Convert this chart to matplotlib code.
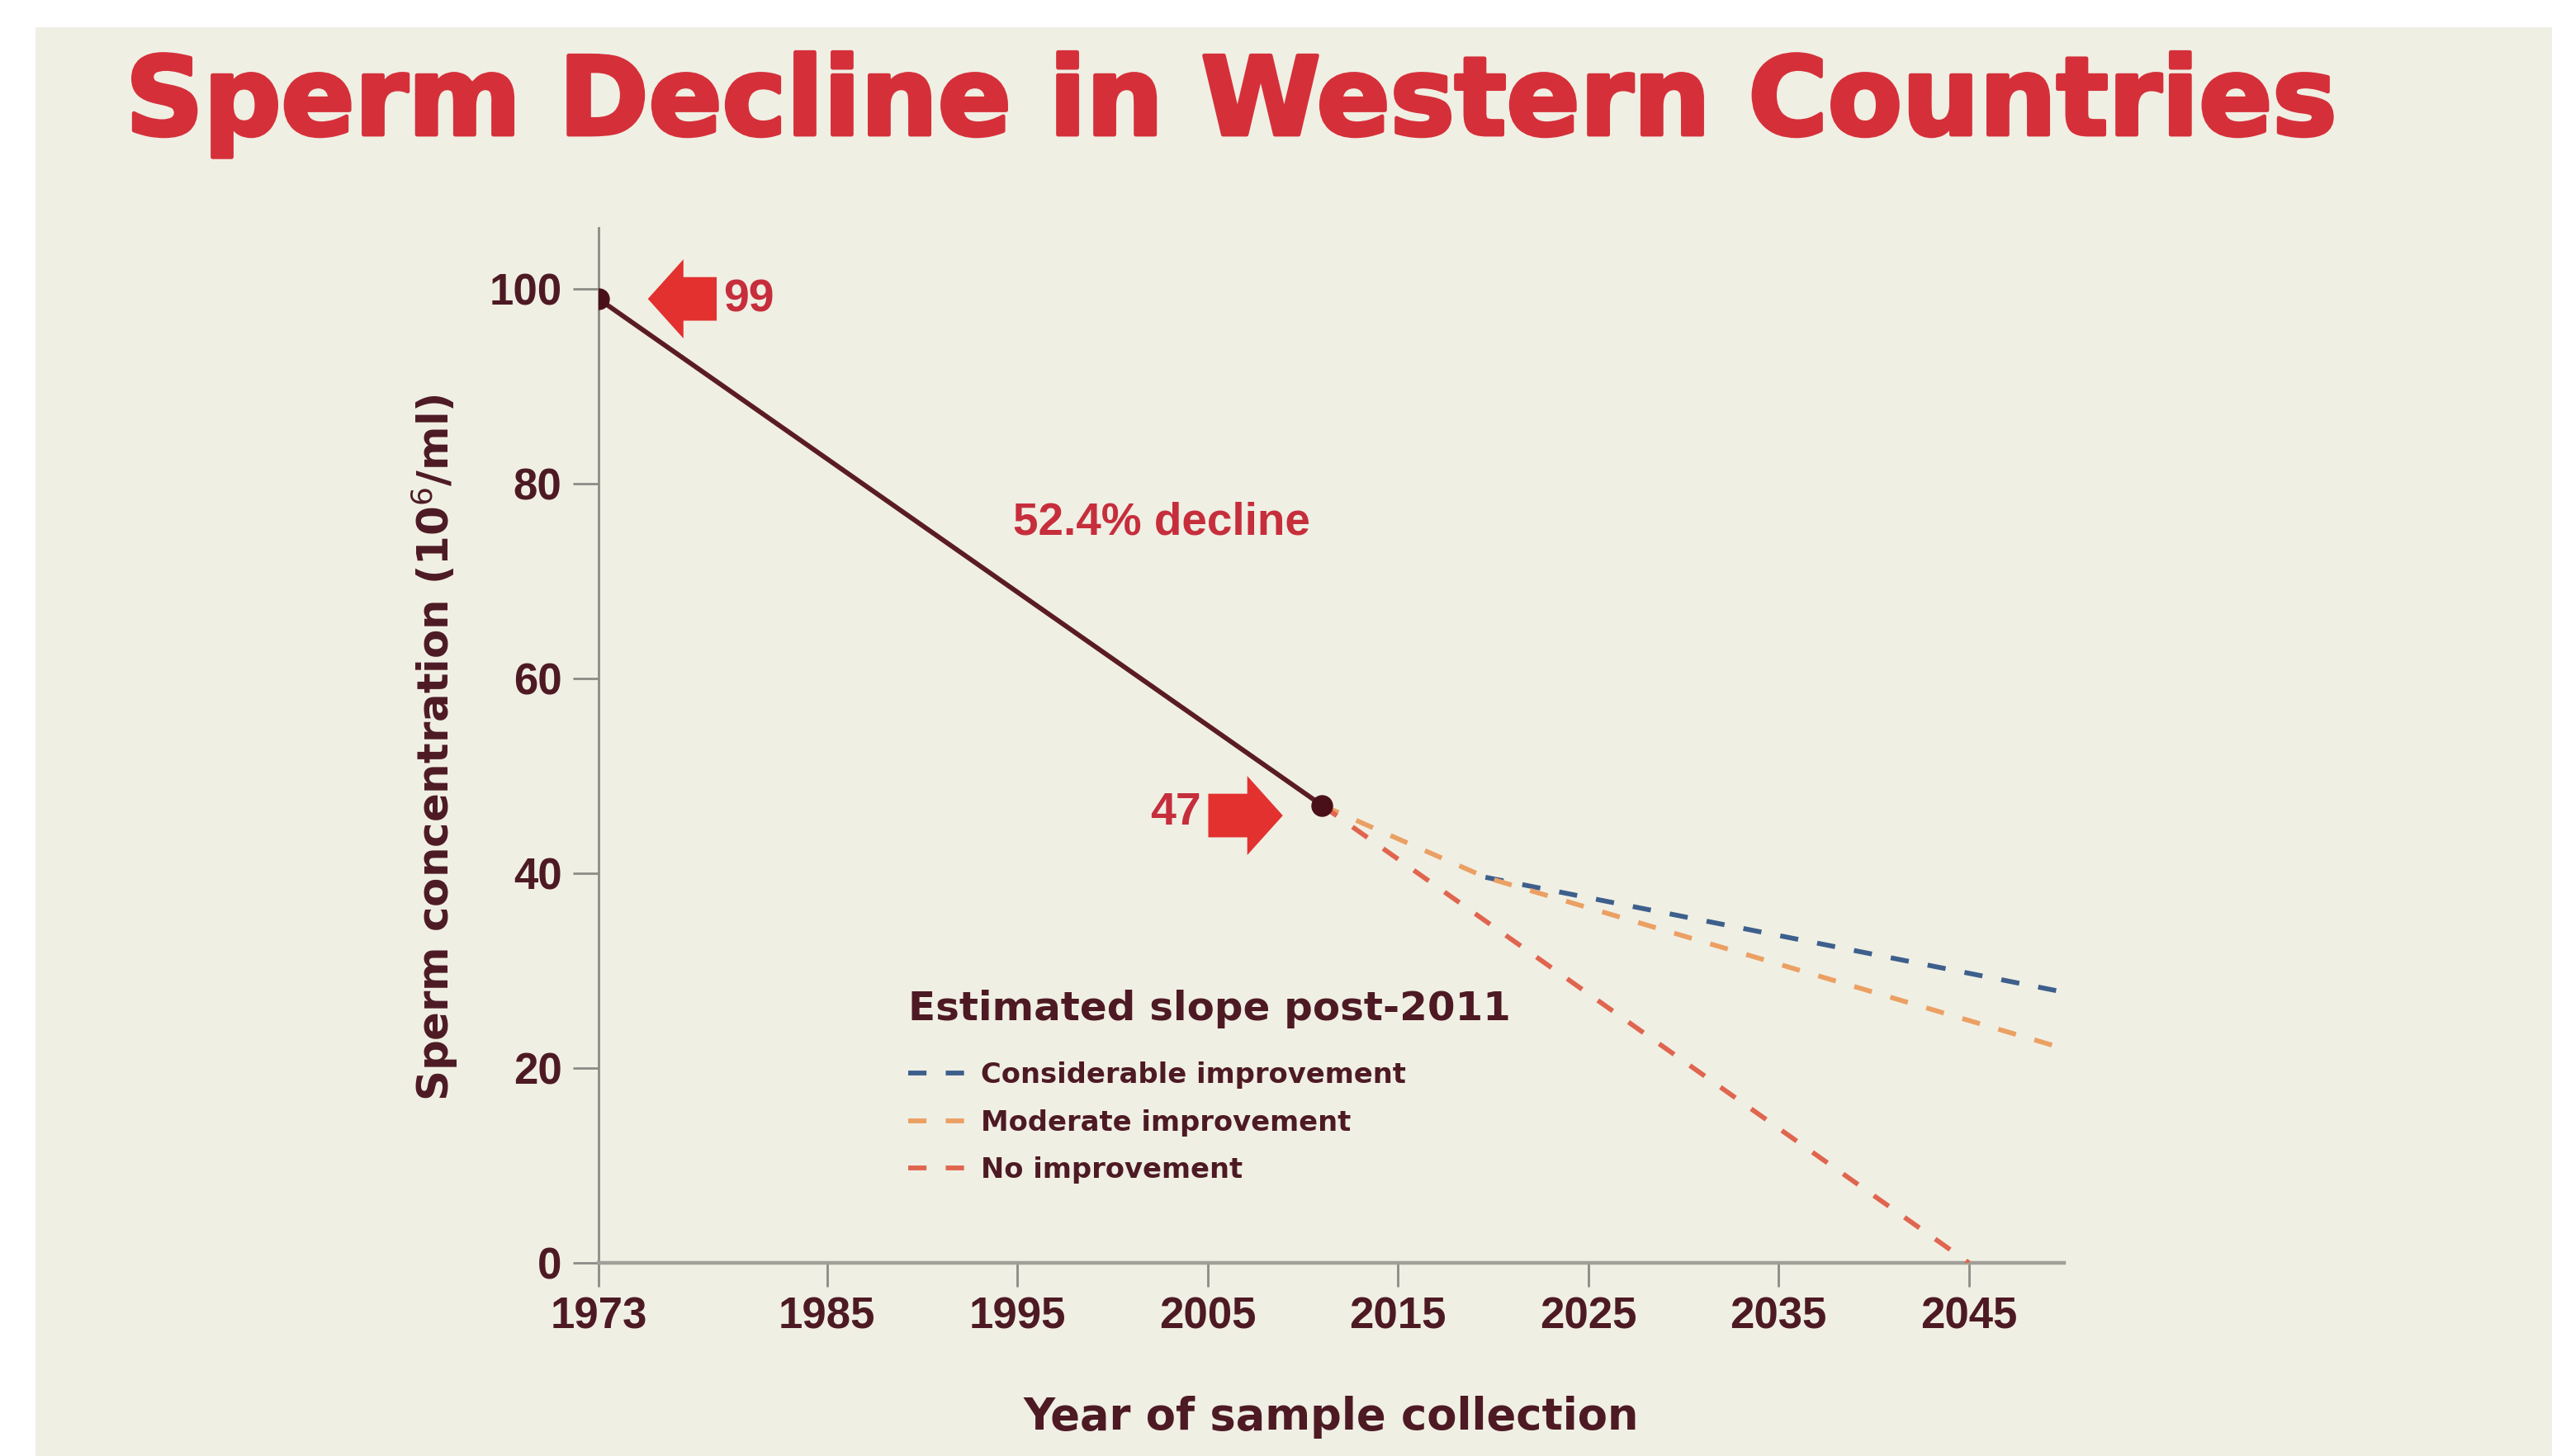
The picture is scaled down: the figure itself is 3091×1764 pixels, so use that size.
import matplotlib
matplotlib.use("Agg")
import matplotlib.pyplot as plt
from matplotlib import transforms
from matplotlib.patches import Rectangle
import matplotlib.patheffects as pe

# ---------------- data ----------------
years_observed = [1973, 2011]
conc_observed = [99, 47]

years_considerable = [2019.6, 2050]
conc_considerable = [39.6, 27.8]

years_moderate = [2011, 2019.6, 2050]
conc_moderate = [47, 39.6, 22]

years_none = [2011, 2045]
conc_none = [47, 0]

x_ticks = [1973, 1985, 1995, 2005, 2015, 2025, 2035, 2045]
y_ticks = [0, 20, 40, 60, 80, 100]

series_labels = ["Considerable improvement", "Moderate improvement", "No improvement"]

# ---------------- style ----------------
W, H = 3091, 1764
BG = "#f0efe4"
MAROON = "#4d1a24"
LINE = "#5a1c22"
RED_TITLE = "#d5303a"
RED_TEXT = "#c62e3c"
ARROW = "#e2312f"
C_BLUE = "#3d5f8c"
C_ORANGE = "#eba063"
C_RED = "#e0654f"
BOLD_WIDE = ["DejaVu Sans"]
BOLD_NARROW = ["Liberation Sans", "DejaVu Sans"]
DASH = (3.8, 4.0)
DLW = 4.2

fig = plt.figure(figsize=(W / 100, H / 100), dpi=100)
fig.patch.set_facecolor("white")
fig.add_artist(Rectangle((43 / W, 0), 1, 1 - 33 / H, transform=fig.transFigure,
                         facecolor=BG, edgecolor="none", zorder=-10))

ax = fig.add_axes([725 / W, 1 - 1530 / H, 1775 / W, 1254 / H])
ax.set_facecolor("none")
ax.set_xlim(1973, 2050)
ax.set_ylim(0, 106.3)

for s in ["top", "right"]:
    ax.spines[s].set_visible(False)
ax.spines["left"].set_color("#8c8c86")
ax.spines["left"].set_linewidth(2)
ax.spines["bottom"].set_color("#a09f98")
ax.spines["bottom"].set_linewidth(3.2)

ax.set_xticks(x_ticks)
ax.set_yticks(y_ticks)
ax.tick_params(axis="y", direction="out", length=22, width=2, color="#8c8c86", pad=10)
ax.tick_params(axis="x", direction="out", length=21, width=2, color="#8c8c86", pad=8)
for lab in ax.get_xticklabels() + ax.get_yticklabels():
    lab.set_family(BOLD_NARROW)
    lab.set_fontweight("bold")
    lab.set_fontsize(38)
    lab.set_color(MAROON)

# projections
h_blue, = ax.plot(years_considerable, conc_considerable, color=C_BLUE, lw=DLW,
                  dashes=DASH, zorder=3)
h_orange, = ax.plot(years_moderate, conc_moderate, color=C_ORANGE, lw=DLW,
                    dashes=DASH, zorder=3)
h_red, = ax.plot(years_none, conc_none, color=C_RED, lw=DLW,
                 dashes=DASH, zorder=3)

# observed decline
ax.plot(years_observed, conc_observed, color=LINE, lw=4.2, zorder=4,
        marker="o", markersize=18, markerfacecolor="#4a1019", markeredgecolor="#4a1019")

# labels
ax.set_xlabel("Year of sample collection", family=BOLD_WIDE, fontweight="bold",
              fontsize=38, color=MAROON, va="center")
ax.xaxis.set_label_coords(0.5, -0.149)
ax.set_ylabel("Sperm concentration (10$^{6}$/ml)", family=BOLD_WIDE, fontweight="bold",
              fontsize=37, color=MAROON, va="center")
ax.yaxis.set_label_coords(-0.112, 0.498)

# title
fig.text(152 / W, 1 - 163 / H, "Sperm Decline in Western Countries", family=BOLD_WIDE,
         fontweight="bold", fontsize=94.5, color=RED_TITLE, ha="left", va="baseline",
         path_effects=[pe.withStroke(linewidth=3.5, foreground=RED_TITLE)])

# decline annotation
ax.text(2002.6, 76.0, "52.4% decline", family=BOLD_NARROW, fontweight="bold",
        fontsize=39.5, color=RED_TEXT, ha="center", va="center")


def off(x, y):
    return transforms.offset_copy(ax.transData, fig=fig, x=x, y=y, units="points")


def block_arrow(xd, yd, tip, tail, dy):
    ax.annotate("", xy=(xd, yd), xycoords=off(tip, dy),
                xytext=(xd, yd), textcoords=off(tail, dy),
                arrowprops=dict(arrowstyle="simple,head_length=31,head_width=69,tail_width=38",
                                mutation_scale=1, color=ARROW, lw=0,
                                shrinkA=0, shrinkB=0, patchA=None, patchB=None),
                zorder=5)


# 99 marker annotation
block_arrow(years_observed[0], conc_observed[0], 43, 103, 0)
ax.annotate(str(conc_observed[0]), xy=(years_observed[0], conc_observed[0]),
            xytext=(109, -1), textcoords="offset points", family=BOLD_NARROW,
            fontweight="bold", fontsize=40, color=RED_TEXT, ha="left", va="center")

# 47 marker annotation
block_arrow(years_observed[1], conc_observed[1], -34, -99, -9)
ax.annotate(str(conc_observed[1]), xy=(years_observed[1], conc_observed[1]),
            xytext=(-105, -7), textcoords="offset points", family=BOLD_NARROW,
            fontweight="bold", fontsize=40, color=RED_TEXT, ha="right", va="center")

# legend
leg = ax.legend([h_blue, h_orange, h_red], series_labels,
                loc="upper left",
                bbox_to_anchor=(1100 / W, 1 - 1286 / H), bbox_transform=fig.transFigure,
                frameon=False, borderpad=0, borderaxespad=0,
                handlelength=2.34, handletextpad=0.27, labelspacing=0.73,
                prop=dict(family=BOLD_WIDE, weight="bold", size=24.3))
for t in leg.get_texts():
    t.set_color(MAROON)
fig.text(1100 / W, 1 - 1222 / H, "Estimated slope post-2011", family=BOLD_WIDE,
         fontweight="bold", fontsize=34.8, color=MAROON, ha="left", va="center")

fig.savefig("out.png", dpi=100, facecolor=fig.get_facecolor())
